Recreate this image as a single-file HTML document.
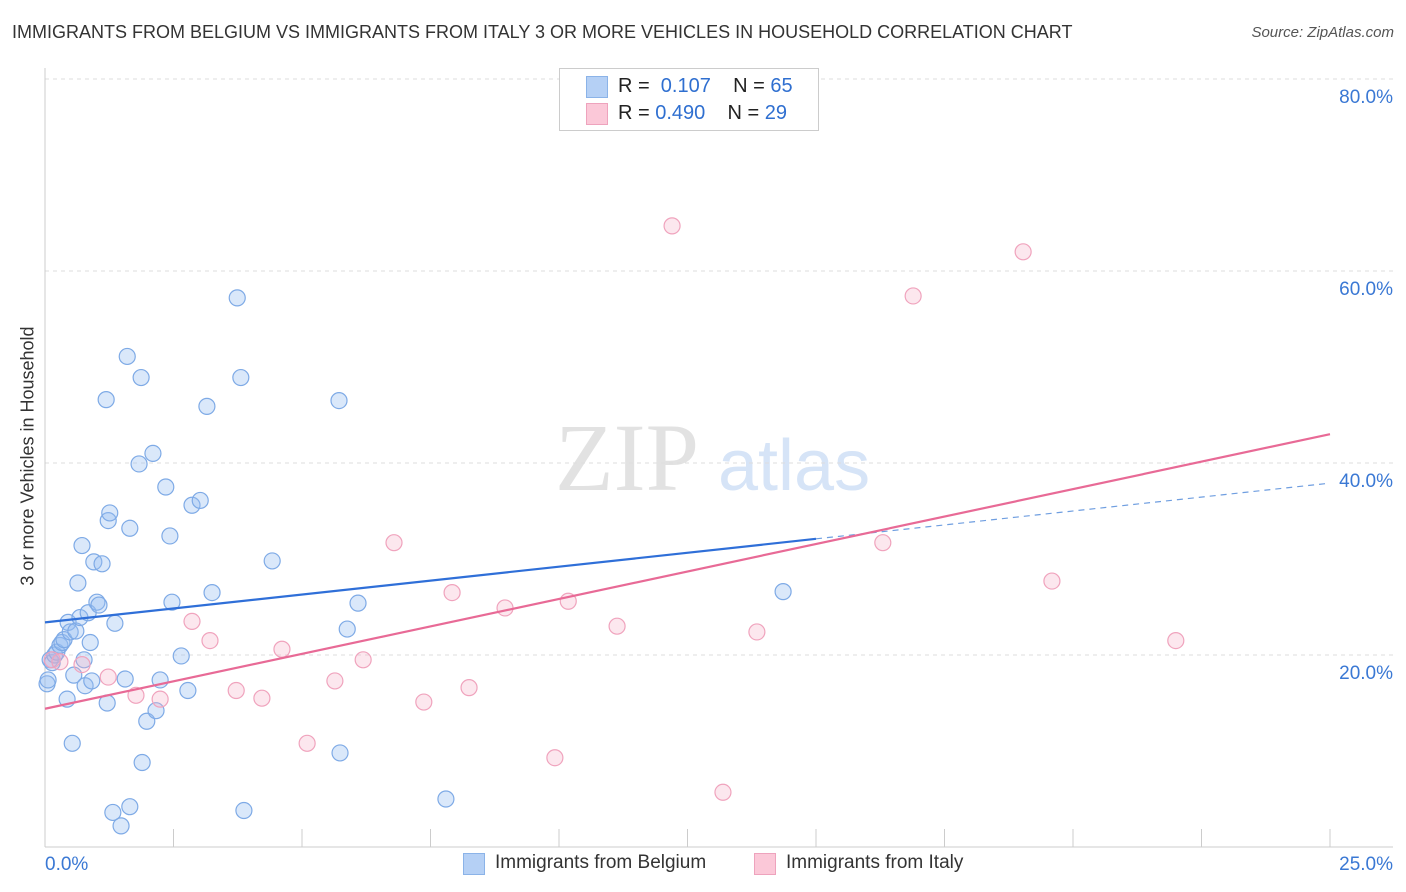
<!DOCTYPE html>
<html><head><meta charset="utf-8">
<style>
body{margin:0;background:#fff;font-family:"Liberation Sans",sans-serif;}
#wrap{position:relative;width:1406px;height:892px;overflow:hidden;}
.t{position:absolute;white-space:nowrap;}
</style></head>
<body>
<div id="wrap">
<div class="t" style="left:12px;top:22px;font-size:18px;color:#333;">IMMIGRANTS FROM BELGIUM VS IMMIGRANTS FROM ITALY 3 OR MORE VEHICLES IN HOUSEHOLD CORRELATION CHART</div>
<div class="t" style="right:12px;top:24px;font-size:15px;color:#555;font-style:italic;">Source: ZipAtlas.com</div>
<div class="t" style="left:28px;top:456px;font-size:18px;color:#333;transform:translate(-50%,-50%) rotate(-90deg);">3 or more Vehicles in Household</div>
<svg id="plot" width="1406" height="892" style="position:absolute;left:0;top:0"></svg>
<div style="position:absolute;left:559px;top:68px;width:258px;height:61px;border:1px solid #ccc;background:#fff;font-size:20px;color:#222;">
 <div style="position:absolute;left:26px;top:7px;width:20px;height:20px;background:#b5d0f5;border:1px solid #8bb3e8;"></div>
 <div class="t" style="left:58px;top:6px;">R = &nbsp;<span style="color:#2f6fd0">0.107</span>&nbsp;&nbsp;&nbsp; N = <span style="color:#2f6fd0">65</span></div>
 <div style="position:absolute;left:26px;top:34px;width:20px;height:20px;background:#fbc8d8;border:1px solid #eea3bd;"></div>
 <div class="t" style="left:58px;top:33px;">R = <span style="color:#2f6fd0">0.490</span>&nbsp;&nbsp;&nbsp; N = <span style="color:#2f6fd0">29</span></div>
</div>
<div>
 <div style="position:absolute;left:463px;top:853px;width:20px;height:20px;background:#b5d0f5;border:1px solid #8bb3e8;"></div>
 <div class="t" style="left:495px;top:852px;font-size:19px;color:#333;">Immigrants from Belgium</div>
 <div style="position:absolute;left:754px;top:853px;width:20px;height:20px;background:#fbc8d8;border:1px solid #eea3bd;"></div>
 <div class="t" style="left:786px;top:852px;font-size:19px;color:#333;">Immigrants from Italy</div>
</div>
</div>
<script>
const xTickLabels=["0.0%","25.0%"];
const yTicks=[20,40,60,80];
const yTickLabels=["20.0%","40.0%","60.0%","80.0%"];
const belgiumX=[0.04,0.06,0.10,0.14,0.19,0.23,0.29,0.33,0.37,0.43,0.45,0.49,0.53,0.56,0.60,0.64,0.68,0.72,0.76,0.78,0.84,0.88,0.91,0.95,1.01,1.05,1.11,1.19,1.21,1.23,1.26,1.32,1.36,1.48,1.56,1.60,1.65,1.65,1.83,1.87,1.89,1.98,2.10,2.16,2.24,2.35,2.43,2.47,2.65,2.78,2.86,3.02,3.15,3.25,3.74,3.81,3.87,4.42,5.72,5.74,5.88,6.09,7.80,14.36];
const belgiumY=[17.0,17.4,19.5,19.2,20.0,20.3,21.0,21.3,21.6,15.4,23.4,22.4,10.8,17.9,22.5,27.5,23.9,31.4,19.5,16.8,24.4,21.3,17.3,29.7,25.5,25.2,29.5,46.6,15.0,34.0,34.8,3.6,23.3,2.2,17.5,51.1,33.2,4.2,39.9,48.9,8.8,13.1,41.0,14.2,17.4,37.5,32.4,25.5,19.9,16.3,35.6,36.1,45.9,26.5,57.2,48.9,3.8,29.8,46.5,9.8,22.7,25.4,5.0,26.6];
const italyX=[0.14,0.29,0.72,1.23,1.77,2.24,2.86,3.21,3.72,4.22,4.61,5.10,5.64,6.19,6.79,7.37,7.92,8.25,8.95,9.92,10.18,11.13,12.20,13.19,13.85,16.30,16.89,19.03,19.59,22.0];
const italyY=[19.5,19.3,19.0,17.7,15.8,15.4,23.5,21.5,16.3,15.5,20.6,10.8,17.3,19.5,31.7,15.1,26.5,16.6,24.9,9.3,25.6,23.0,64.7,5.7,22.4,31.7,57.4,62.0,27.7,21.5];
const belgiumTrend=[23.4,37.9];
const italyTrend=[14.4,43.0];

const NS="http://www.w3.org/2000/svg";
const svg=document.getElementById('plot');
const X=v=>45+v*51.4;
const Y=v=>847-v*9.6;
function mk(tag,attrs){const e=document.createElementNS(NS,tag);for(const k in attrs)e.setAttribute(k,attrs[k]);svg.appendChild(e);return e;}

// watermark
let w=mk('text',{x:555,y:490,'font-family':'Liberation Serif,serif','font-size':96,fill:'#e2e2e2'});w.textContent='ZIP';


let w2=mk('text',{x:718,y:490,'font-family':'Liberation Sans,sans-serif','font-size':72,fill:'#d6e4f7'});w2.textContent='atlas';



yTicks.forEach((t,i)=>{
 const g=mk('line',{x1:45,x2:1393,y1:Y(t),y2:Y(t),stroke:'#ddd','stroke-dasharray':'4,4'});
 
 
 const l=mk('text',{x:1393,y:Y(t)+24,'text-anchor':'end','font-size':19,fill:'#3a78d4','font-family':'Liberation Sans,sans-serif'});
 l.textContent=yTickLabels[i];
 
 
});
let ax=mk('line',{x1:45,x2:45,y1:68,y2:847,stroke:'#ccc'});


let bx=mk('line',{x1:45,x2:1393,y1:847,y2:847,stroke:'#ccc'});


for(let i=0;i<=10;i++){
 const tk=mk('line',{x1:X(i*2.5),x2:X(i*2.5),y1:829,y2:847,stroke:'#ccc'});
 
 
}
const xl0=mk('text',{x:45,y:870,'font-size':19,fill:'#3a78d4','font-family':'Liberation Sans,sans-serif'});xl0.textContent=xTickLabels[0];


const xl1=mk('text',{x:1393,y:870,'text-anchor':'end','font-size':19,fill:'#3a78d4','font-family':'Liberation Sans,sans-serif'});xl1.textContent=xTickLabels[1];



belgiumX.forEach((x,i)=>{
 const c=mk('circle',{cx:X(x),cy:Y(belgiumY[i]),r:8,fill:'rgba(150,190,240,0.35)',stroke:'#7eaae6','stroke-width':1.2});
 
 
});
italyX.forEach((x,i)=>{
 const c=mk('circle',{cx:X(x),cy:Y(italyY[i]),r:8,fill:'rgba(246,175,198,0.3)',stroke:'#f0a3bd','stroke-width':1.2});
 
 
});
const bAt=x=>belgiumTrend[0]+(belgiumTrend[1]-belgiumTrend[0])*x/25;
const iAt=x=>italyTrend[0]+(italyTrend[1]-italyTrend[0])*x/25;
let t1=mk('line',{x1:X(0),y1:Y(bAt(0)),x2:X(15),y2:Y(bAt(15)),stroke:'#2f6fd8','stroke-width':2.2});


let t2=mk('line',{x1:X(15),y1:Y(bAt(15)),x2:X(25),y2:Y(bAt(25)),stroke:'#6f9ee0','stroke-width':1.2,'stroke-dasharray':'6,5'});


let t3=mk('line',{x1:X(0),y1:Y(iAt(0)),x2:X(25),y2:Y(iAt(25)),stroke:'#e86a96','stroke-width':2.2});


</script>
</body></html>
